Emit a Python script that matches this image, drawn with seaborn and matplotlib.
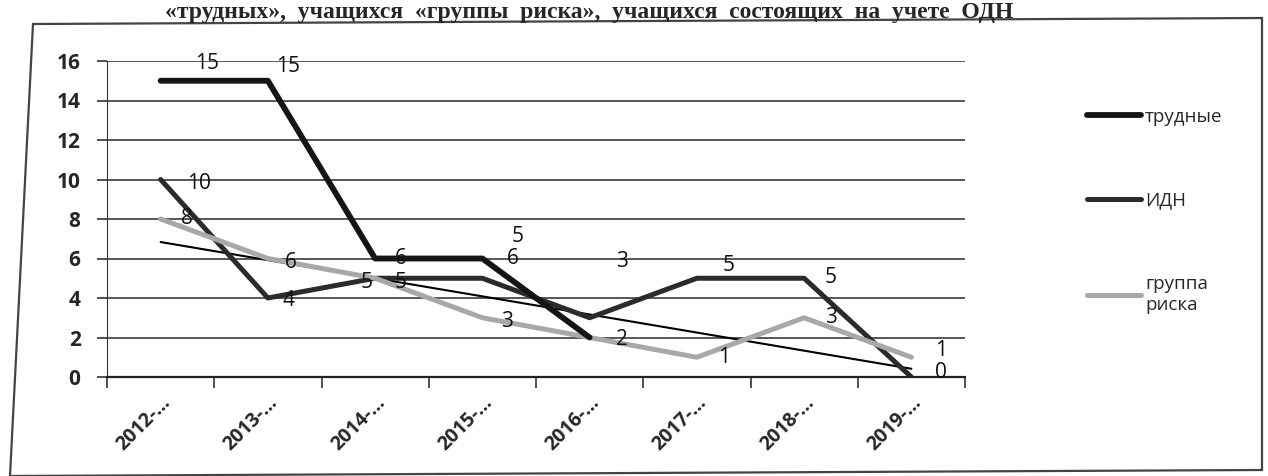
import numpy as np
import pandas as pd
import seaborn as sns
import matplotlib.pyplot as plt
from matplotlib.patches import Polygon

sns.set_style("white")
plt.rcParams['font.family'] = ['Open Sans', 'DejaVu Sans']

# ---- data ----
years = ['2012-…', '2013-…', '2014-…', '2015-…', '2016-…', '2017-…', '2018-…', '2019-…']
trudnye = [15, 15, 6, 6, 2, np.nan, np.nan, np.nan]
idn = [10, 4, 5, 5, 3, 5, 5, 0]
riska = [8, 6, 5, 3, 2, 1, 3, 1]
yticks = [0, 2, 4, 6, 8, 10, 12, 14, 16]

df = pd.DataFrame({'x': np.arange(len(years)), 'трудные': trudnye, 'ИДН': idn, 'группа риска': riska})

fig = plt.figure(figsize=(12.68, 4.76), dpi=100)
ax = fig.add_axes([107/1268, 99/476, 858/1268, 316/476])

# page frame + heading (photo of a printed page)
frame = Polygon([[33/1268, 1-24/476], [1262/1268, 1-18/476], [1262/1268, 1-470/476], [10/1268, 1-476/476]],
                closed=True, fill=False, edgecolor='#444444', lw=1.6, transform=fig.transFigure)
fig.patches.append(frame)
fig.text(165/1268, 1-18/476, '«трудных»,  учащихся  «группы  риска»,  учащихся  состоящих  на  учете  ОДН',
         family=['Liberation Serif', 'DejaVu Serif'], fontweight='bold', fontsize=17, va='baseline')

# trend line for "группа риска"
sns.regplot(data=df, x='x', y='группа риска', ax=ax, scatter=False, ci=None, truncate=True,
            line_kws=dict(color='black', lw=1.5, zorder=2))

sns.lineplot(data=df, x='x', y='трудные', ax=ax, color='#151515', lw=4.2, label='трудные', zorder=4)
sns.lineplot(data=df, x='x', y='ИДН', ax=ax, color='#2b2b2b', lw=3.6, label='ИДН', zorder=3)
sns.lineplot(data=df, x='x', y='группа риска', ax=ax, color='#a8a8a8', lw=3.6, label='группа\nриска', zorder=3)

# data labels (offsets in pixels)
lab_font = dict(fontsize=15, color='#111111', family=['Open Sans', 'DejaVu Sans'])
off_t = [(46, 17), (20, 14), (26, 0), (30, 0), None]
off_i = [(38, -4), (21, -2), (-9, -4), (35, 42), (32, 56), (32, 13), (27, 1), (30, 5)]
off_r = [(26, 1), (23, -4), (26, -4), (25, -4), (32, -2), (27, 0), (27, 0), (30, 7)]
for vals, offs in [(trudnye, off_t), (idn, off_i), (riska, off_r)]:
    for i, off in enumerate(offs):
        if off is None or np.isnan(vals[i]):
            continue
        ax.annotate(f'{vals[i]:g}', (i, vals[i]), xytext=off, textcoords='offset pixels',
                    ha='center', va='center', **lab_font)

ax.set_xlim(-0.5, len(years) - 0.5)
ax.set_ylim(0, 16)
ax.set_yticks(yticks)
ax.set_yticklabels([str(v) for v in yticks], fontsize=15, fontweight='bold')
ax.set_xticks(np.arange(-0.5, len(years)), minor=False)
ax.set_xticklabels([''] * (len(years) + 1))
ax.set_xticks(np.arange(len(years)), minor=True)
ax.set_xticklabels(years, minor=True, rotation=45, ha='right', rotation_mode='anchor',
                   fontsize=14, fontweight='bold')
ax.tick_params(axis='x', which='major', length=8, width=1.2, direction='out', color='#333333', bottom=True)
ax.tick_params(axis='x', which='minor', length=0, pad=11)
ax.tick_params(axis='y', length=7, width=1.2, direction='out', color='#333333', left=True, pad=12)
ax.set_xlabel('')
ax.set_ylabel('')
ax.grid(axis='y', color='#4a4a4a', lw=1.3)
ax.set_axisbelow(True)
for s in ['top', 'right']:
    ax.spines[s].set_visible(False)
ax.spines['left'].set_color('#333333')
ax.spines['bottom'].set_color('#222222')
ax.spines['bottom'].set_linewidth(1.6)

leg = ax.legend(loc='upper left', bbox_to_anchor=(963/858, 1.0 - 30/316), frameon=False,
                fontsize=13.5, handlelength=2.9, handletextpad=0.2, labelspacing=3.5)

fig.savefig('out.png', dpi=100)
